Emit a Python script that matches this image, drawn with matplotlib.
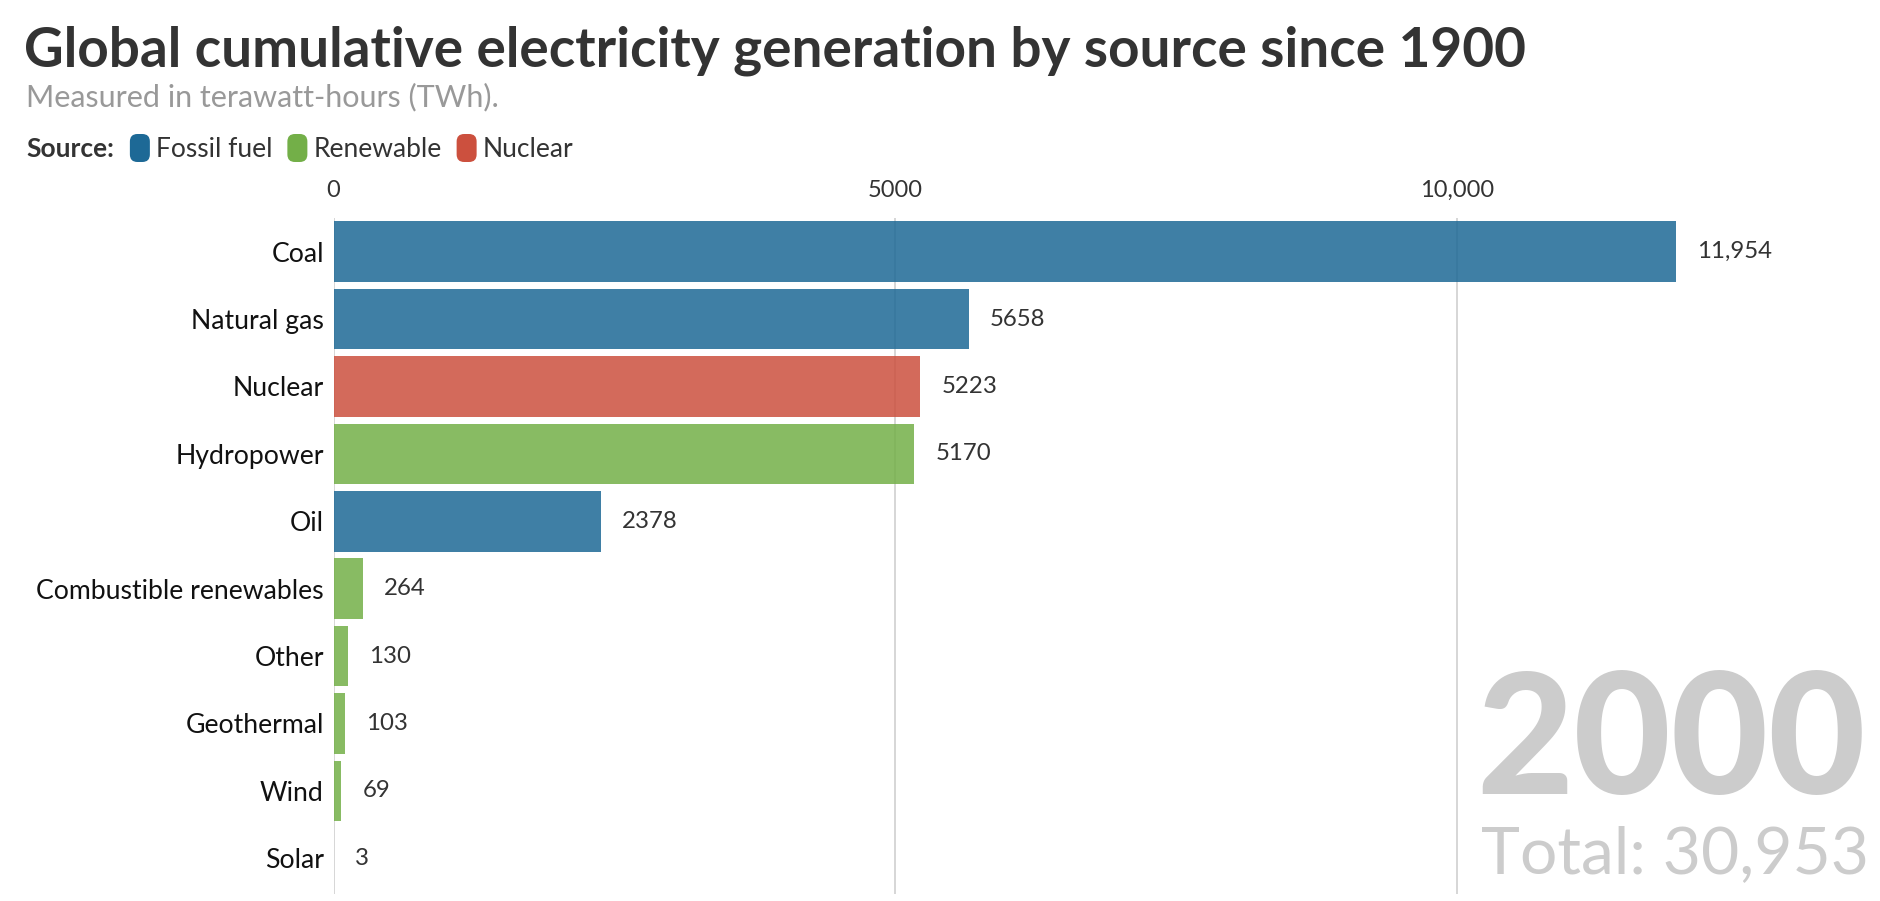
import matplotlib
matplotlib.use("Agg")
import matplotlib.pyplot as plt
from matplotlib.patches import FancyBboxPatch

plt.rcParams["font.family"] = ["Lato", "DejaVu Sans"]

# data (TWh, year 2000 snapshot)
sources = ["Coal", "Natural gas", "Nuclear", "Hydropower", "Oil",
           "Combustible renewables", "Other", "Geothermal", "Wind", "Solar"]
values = [11954, 5658, 5223, 5170, 2378, 264, 130, 103, 69, 3]
groups = ["Fossil fuel", "Fossil fuel", "Nuclear", "Renewable", "Fossil fuel",
          "Renewable", "Renewable", "Renewable", "Renewable", "Renewable"]
legend_groups = ["Fossil fuel", "Renewable", "Nuclear"]
xticks = [0, 5000, 10000]
xtick_labels = ["0", "5000", "10,000"]
year = "2000"
total = 30953

colors = {"Fossil fuel": "#1D6996", "Renewable": "#73AF48", "Nuclear": "#CC503E"}

W, H = 1881, 901


def fx(x):
    return x / W


def fy(y):
    return 1 - y / H


def fmt(v):
    return f"{v:,}" if v >= 10000 else str(v)


fig = plt.figure(figsize=(W / 100, H / 100), dpi=100, facecolor="white")

# axes placed in pixel terms: x=0 at 333.6px, 5000 units = 561.6px
ax_left, ax_top, ax_bottom = 333.6, 218, 894
ax = fig.add_axes([fx(ax_left), fy(ax_bottom), 1 - fx(ax_left), (ax_bottom - ax_top) / H])
xmax = (W - ax_left) / 561.6 * 5000
ax.set_xlim(0, xmax)
ax.set_ylim(9.53, -0.5)

ypos = list(range(len(sources)))
ax.barh(ypos, values, height=0.9, color=[colors[g] for g in groups],
        alpha=0.85, zorder=2, linewidth=0)

for y, v in zip(ypos, values):
    ax.text(v + 21 / 561.6 * 5000, y, fmt(v), va="center", ha="left",
            fontsize=17.3, color="#333333", zorder=3)

ax.set_yticks(ypos)
ax.set_yticklabels(sources, fontsize=19.2, color="#111111")
ax.tick_params(axis="y", length=0, pad=7)

ax.xaxis.tick_top()
ax.set_xticks(xticks)
ax.set_xticklabels(xtick_labels, fontsize=17, color="#333333")
ax.tick_params(axis="x", length=0, pad=12)
ax.grid(axis="x", color="#d0d0d0", linewidth=1.2, zorder=1)
ax.set_axisbelow(True)
for s in ax.spines.values():
    s.set_visible(False)

# year and total
fig.text(fx(1866), fy(794), year, ha="right", va="baseline", fontsize=121,
         fontweight="black", color="#cccccc")
fig.text(fx(1869), fy(873), f"Total: {total:,}", ha="right", va="baseline",
         fontsize=47.5, color="#cccccc")

# title block
fig.text(fx(24), fy(66), "Global cumulative electricity generation by source since 1900",
         ha="left", va="baseline", fontsize=39.5, fontweight="bold", color="#333333")
fig.text(fx(26), fy(106), "Measured in terawatt-hours (TWh).",
         ha="left", va="baseline", fontsize=22, color="#999999")

# legend row
fig.canvas.draw()
renderer = fig.canvas.get_renderer()
leg_base = fy(157)
t = fig.text(fx(26), leg_base, "Source:", ha="left", va="baseline",
             fontsize=19, fontweight="bold", color="#333333")
x = t.get_window_extent(renderer).x1 + 16
for g in legend_groups:
    sw = FancyBboxPatch((fx(x), fy(162)), fx(20), 28 / H,
                        boxstyle="round,pad=0,rounding_size=0.004",
                        transform=fig.transFigure, facecolor=colors[g],
                        edgecolor="none", mutation_aspect=W / H)
    fig.patches.append(sw)
    t = fig.text(fx(x + 26), leg_base, g, ha="left", va="baseline",
                 fontsize=19, color="#333333")
    x = t.get_window_extent(renderer).x1 + 15

fig.savefig("out.png", dpi=100, facecolor="white")
